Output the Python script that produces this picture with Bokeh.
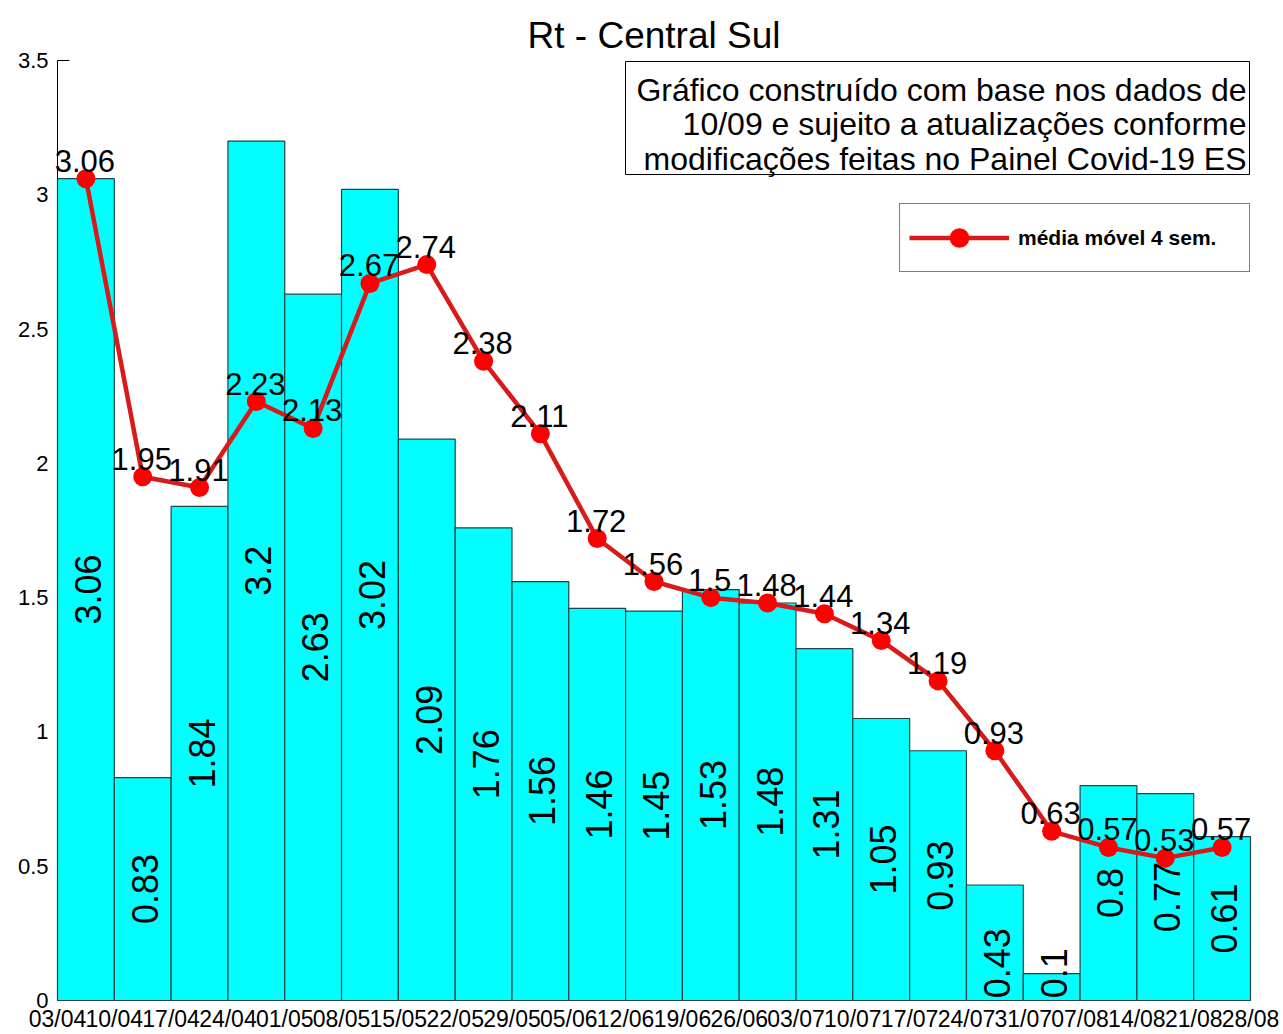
import math
from bokeh.plotting import figure
from bokeh.models import (FixedTicker, Label, BoxAnnotation, Legend, LegendItem,
                          ColumnDataSource)
from bokeh.core.properties import value
from bokeh.embed import file_html
from bokeh.resources import INLINE

# ---------------- data ----------------
week_labels = ["03/04", "10/04", "17/04", "24/04", "01/05", "08/05", "15/05", "22/05",
               "29/05", "05/06", "12/06", "19/06", "26/06", "03/07", "10/07", "17/07",
               "24/07", "31/07", "07/08", "14/08", "21/08", "28/08"]
rt_weekly = [3.06, 0.83, 1.84, 3.2, 2.63, 3.02, 2.09, 1.76, 1.56, 1.46, 1.45,
             1.53, 1.48, 1.31, 1.05, 0.93, 0.43, 0.1, 0.8, 0.77, 0.61]
rt_mm4 = [3.06, 1.95, 1.91, 2.23, 2.13, 2.67, 2.74, 2.38, 2.11, 1.72, 1.56,
          1.5, 1.48, 1.44, 1.34, 1.19, 0.93, 0.63, 0.57, 0.53, 0.57]
y_ticks = [0, 0.5, 1, 1.5, 2, 2.5, 3, 3.5]
y_tick_labels = ["0", "0.5", "1", "1.5", "2", "2.5", "3", "3.5"]
title_text = "Rt - Central Sul"
note_lines = ["Gráfico construído com base nos dados de",
              "10/09 e sujeito a atualizações conforme",
              "modificações feitas no Painel Covid-19 ES"]
legend_label = "média móvel 4 sem."

n = len(rt_weekly)
xs = list(range(1, n + 1))
edges = [i + 0.5 for i in range(n + 1)]

# ---------------- layout (pixels) ----------------
W, H = 1283, 1034
FRAME_L, FRAME_R, FRAME_T, FRAME_B = 57, 1250, 60, 1000
Y_MAX = 3.5
FONT = "Liberation Sans"


def px2x(px):
    return 0.5 + (px - FRAME_L) * n / (FRAME_R - FRAME_L)


def py2y(py):
    return (FRAME_B - py) * Y_MAX / (FRAME_B - FRAME_T)


p = figure(width=W, height=H, x_range=(0.5, n + 0.5), y_range=(0, Y_MAX),
           output_backend="svg", toolbar_location=None,
           min_border_left=FRAME_L, min_border_right=W - FRAME_R,
           min_border_top=FRAME_T, min_border_bottom=H - FRAME_B)
p.title.text = title_text
p.title.align = "center"
p.title.text_font = FONT
p.title.text_font_size = "37px"
p.title.text_font_style = "normal"
p.title.text_color = "black"
p.xgrid.visible = False
p.ygrid.visible = False
p.outline_line_color = None
p.background_fill_color = "white"
p.border_fill_color = "white"

# axes
p.xaxis.ticker = FixedTicker(ticks=edges)
p.xaxis.major_label_overrides = {e: lab for e, lab in zip(edges, week_labels)}
p.xaxis.major_tick_in = 0
p.xaxis.major_tick_out = 0
p.xaxis.minor_tick_line_color = None
p.xaxis.major_label_standoff = 5
p.xaxis.major_label_text_font = FONT
p.xaxis.major_label_text_font_size = "23px"
p.xaxis.major_label_text_color = "black"
p.xaxis.axis_line_color = "black"

p.yaxis.ticker = FixedTicker(ticks=y_ticks)
p.yaxis.major_label_overrides = {t: lab for t, lab in zip(y_ticks, y_tick_labels)}
p.yaxis.major_tick_in = 12
p.yaxis.major_tick_out = 0
p.yaxis.minor_tick_line_color = None
p.yaxis.major_label_standoff = 9
p.yaxis.major_label_text_font = FONT
p.yaxis.major_label_text_font_size = "22px"
p.yaxis.major_label_text_color = "black"
p.yaxis.axis_line_color = "black"
p.yaxis.major_tick_line_color = "black"

# bars
p.vbar(x=xs, top=rt_weekly, width=1, fill_color="#00FFFF", line_color="#1e4646",
       line_width=1.2, level="overlay")

# bar value labels (rotated)
big = [(x, v) for x, v in zip(xs, rt_weekly) if v >= 0.5]
small = [(x, v) for x, v in zip(xs, rt_weekly) if v < 0.5]
src_big = ColumnDataSource(dict(x=[b[0] for b in big], y=[b[1] / 2 for b in big],
                                t=[f"{b[1]:g}" for b in big]))
src_small = ColumnDataSource(dict(x=[s[0] for s in small], y=[0.008 for s in small],
                                  t=[f"{s[1]:g}" for s in small]))
p.text(x="x", y="y", text="t", source=src_big, angle=math.pi / 2,
       text_align="center", text_baseline="middle", x_offset=2,
       text_font=value(FONT), text_font_size="36px", text_color="black", level="overlay")
p.text(x="x", y="y", text="t", source=src_small, angle=math.pi / 2,
       text_align="left", text_baseline="middle", x_offset=2,
       text_font=value(FONT), text_font_size="36px", text_color="black", level="overlay")

# moving average line + markers
line_r = p.line(xs, rt_mm4, line_color="#d81a1a", line_width=4.5, level="overlay")
sc_r = p.scatter(xs, rt_mm4, size=19, fill_color="#ff0000", line_color="#ff0000",
                 line_width=0, level="overlay")
p.text(x=xs, y=rt_mm4, text=[f"{v:g}" for v in rt_mm4], text_align="center",
       text_baseline="alphabetic", y_offset=-18, x_offset=-1,
       text_font=value(FONT), text_font_size="31px", text_color="black", level="overlay")

# note box
p.add_layout(BoxAnnotation(left=px2x(625), right=px2x(1249), top=py2y(61),
                           bottom=py2y(174), fill_color="white", fill_alpha=1.0,
                           line_color="black", line_width=1, line_alpha=1.0))
for line_text, base in zip(note_lines, [89, 123, 158]):
    p.add_layout(Label(x=px2x(1246), y=py2y(base), text=line_text, text_align="right",
                       text_baseline="alphabetic", text_font=FONT,
                       text_font_size="32px", text_color="black"))

# legend
legend = Legend(items=[LegendItem(label=legend_label, renderers=[line_r, sc_r])],
                location=(899 - FRAME_L, FRAME_B - 272), orientation="vertical",
                padding=9, spacing=0, margin=0, glyph_width=100, glyph_height=49,
                label_standoff=9, label_width=222, label_height=49,
                label_text_font=FONT, label_text_font_size="21px",
                label_text_font_style="bold", label_text_color="black",
                border_line_color="black", border_line_width=1,
                background_fill_color="white", background_fill_alpha=1.0)
p.add_layout(legend)

open("out.html", "w").write(file_html(p, INLINE))
